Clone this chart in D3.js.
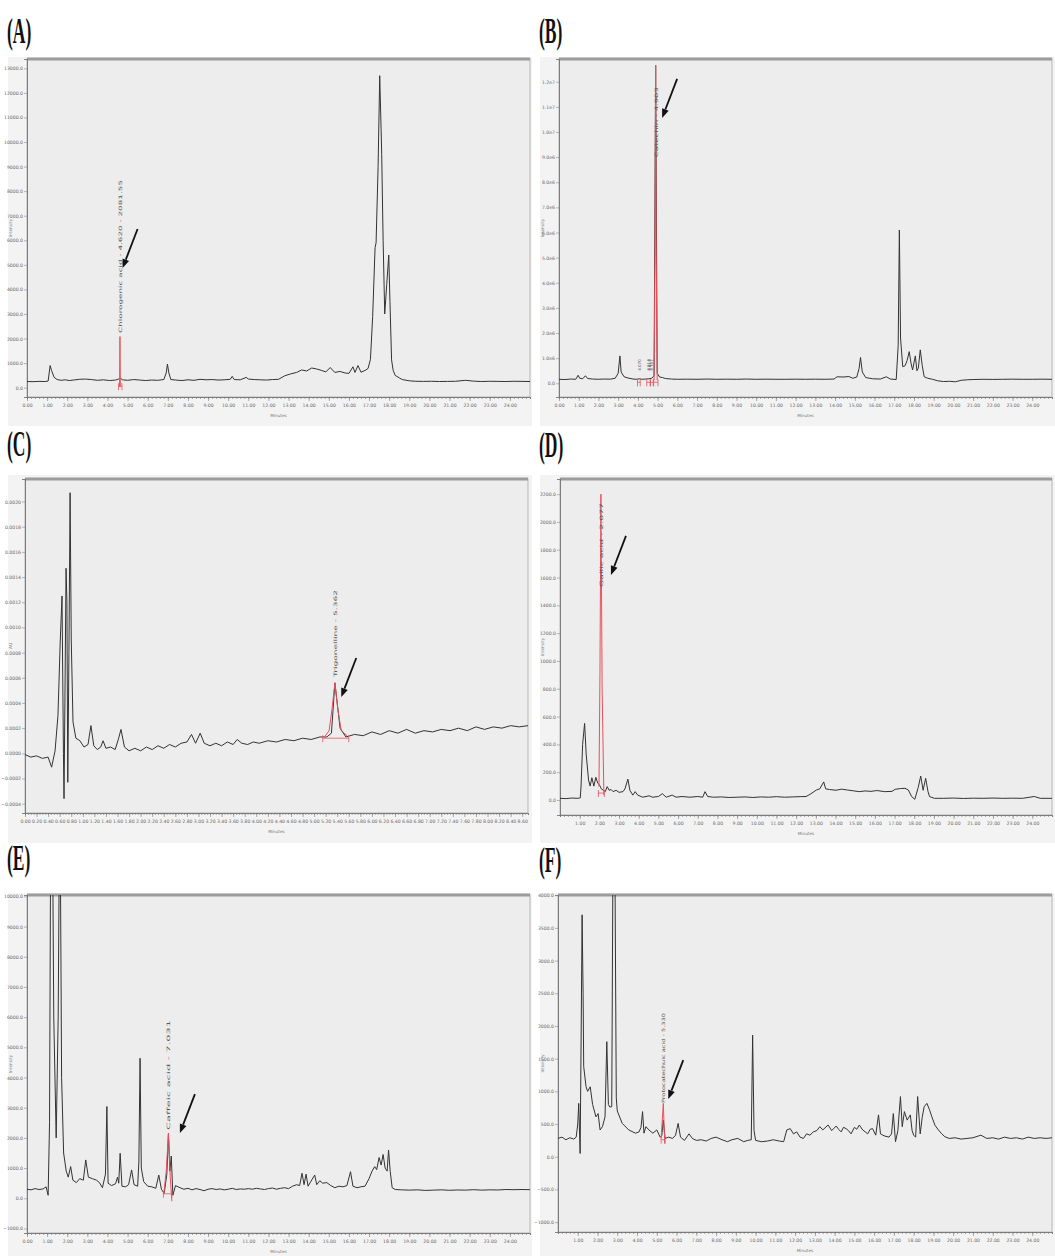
<!DOCTYPE html>
<html>
<head>
<meta charset="utf-8">
<script src="https://cdn.jsdelivr.net/npm/d3@7"></script>
<style>
  body { margin: 0; background: #fff; }
  svg { display: block; }
</style>
</head>
<body>
<div id="wrapper"></div>
<script>
// ---- data: [minutes, response] ----
const traceA = [[0,250],[0.3,245],[0.6,255],[0.9,250],[1.05,270],[1.15,900],[1.22,700],[1.35,420],[1.5,330],[1.7,300],[1.9,320],[2.1,290],[2.3,310],[2.6,340],[2.9,350],[3.2,330],[3.5,300],[3.8,320],[4.1,290],[4.4,310],[4.55,350],[4.65,380],[4.75,320],[5.0,300],[5.3,330],[5.6,310],[5.9,290],[6.2,310],[6.5,300],[6.8,330],[6.92,600],[6.98,960],[7.05,600],[7.15,330],[7.4,310],[7.7,290],[8.0,320],[8.3,300],[8.6,340],[8.9,320],[9.2,330],[9.5,310],[9.8,320],[10.1,340],[10.2,460],[10.3,330],[10.6,320],[10.9,420],[11.0,350],[11.3,330],[11.6,320],[11.9,310],[12.2,330],[12.5,340],[12.8,480],[13.1,560],[13.4,620],[13.65,720],[13.9,680],[14.15,800],[14.4,760],[14.65,700],[14.85,640],[15.07,820],[15.3,620],[15.55,660],[15.8,600],[16.0,580],[16.2,850],[16.3,620],[16.45,900],[16.6,630],[16.8,700],[16.95,780],[17.07,1150],[17.18,2900],[17.3,5700],[17.35,5900],[17.45,9000],[17.53,12700],[17.6,10500],[17.63,9500],[17.7,6000],[17.78,3000],[17.88,4200],[17.98,5400],[18.04,3500],[18.12,1130],[18.2,700],[18.3,500],[18.5,400],[18.65,330],[19.0,280],[19.3,260],[19.7,255],[20.1,260],[20.5,250],[20.9,255],[21.3,260],[21.8,300],[22.2,265],[22.6,250],[23.0,260],[23.4,255],[23.8,250],[24.2,260],[24.6,255],[25,250]]
const peakA = [[4.6,40],[4.62,2080],[4.64,40]]

const traceB = [[0,160000],[0.3,150000],[0.6,170000],[0.85,160000],[0.97,320000],[1.05,200000],[1.2,180000],[1.34,300000],[1.45,190000],[1.7,170000],[2.0,160000],[2.3,170000],[2.6,165000],[2.85,200000],[3.0,400000],[3.09,1090000],[3.15,450000],[3.3,260000],[3.5,210000],[3.75,170000],[3.95,160000],[4.07,180000],[4.2,160000],[4.4,170000],[4.55,180000],[4.7,200000],[4.82,300000],[4.9,12660000],[4.98,400000],[5.1,250000],[5.24,230000],[5.4,190000],[5.7,170000],[6.0,160000],[6.5,165000],[7.0,160000],[7.5,170000],[8.0,160000],[8.5,165000],[9.0,160000],[9.5,170000],[10.0,160000],[10.5,165000],[11.0,160000],[11.5,160000],[12.0,165000],[12.5,160000],[13.0,165000],[13.5,160000],[13.95,170000],[14.1,260000],[14.4,250000],[14.7,270000],[14.9,200000],[15.1,250000],[15.22,600000],[15.29,1030000],[15.38,450000],[15.55,230000],[15.9,180000],[16.3,170000],[16.6,260000],[16.8,170000],[17.1,150000],[17.2,1500000],[17.26,6100000],[17.32,1800000],[17.43,660000],[17.55,700000],[17.65,900000],[17.76,1260000],[17.85,800000],[17.93,530000],[18.07,1090000],[18.15,500000],[18.22,600000],[18.32,1330000],[18.42,700000],[18.52,260000],[18.7,200000],[18.94,160000],[19.2,100000],[19.5,70000],[19.8,80000],[20.1,60000],[20.4,120000],[20.7,140000],[21.0,150000],[21.5,160000],[22.0,155000],[22.5,160000],[23.0,165000],[23.5,160000],[24.0,160000],[24.5,165000],[25,160000]]
const peakB = [[4.82,120000],[4.87,5000000],[4.9,12660000],[4.93,5000000],[4.98,120000]]

const traceC = [[0,-0.00001],[0.1,-0.00003],[0.2,-0.00002],[0.3,-0.00004],[0.4,-0.00003],[0.46,-0.00011],[0.52,0.00002],[0.57,0.0003],[0.61,0.0009],[0.64,0.00125],[0.665,0.0],[0.675,-0.00036],[0.69,0.0004],[0.71,0.00147],[0.725,0.0012],[0.74,-0.00023],[0.76,0.0008],[0.78,0.00207],[0.8,0.0009],[0.83,0.00025],[0.88,0.00012],[0.95,0.0001],[1.02,0.00005],[1.09,0.00007],[1.14,0.00022],[1.19,0.00006],[1.25,0.00003],[1.31,0.00005],[1.35,0.0001],[1.4,0.00004],[1.48,0.00005],[1.56,0.00003],[1.62,0.00012],[1.66,0.00019],[1.72,0.00005],[1.8,0.00002],[1.9,0.00004],[2.0,0.00002],[2.1,0.00005],[2.2,0.00003],[2.3,0.00006],[2.4,0.00004],[2.5,0.00007],[2.6,0.00005],[2.7,0.00008],[2.8,0.00009],[2.88,0.00015],[2.95,0.00008],[3.03,0.00016],[3.1,0.00008],[3.2,0.00006],[3.3,0.00008],[3.4,0.00006],[3.5,0.00009],[3.6,0.00007],[3.67,0.00011],[3.75,0.00008],[3.85,0.00007],[3.95,0.00009],[4.05,0.00008],[4.2,0.0001],[4.35,0.00009],[4.5,0.00011],[4.65,0.0001],[4.8,0.00012],[4.95,0.00011],[5.1,0.00013],[5.22,0.00013],[5.3,0.00016],[5.36,0.00056],[5.45,0.0002],[5.55,0.00013],[5.7,0.00015],[5.85,0.00014],[6.0,0.00017],[6.15,0.00015],[6.3,0.00018],[6.45,0.00016],[6.6,0.00019],[6.75,0.00016],[6.9,0.00018],[7.05,0.00017],[7.2,0.00019],[7.35,0.00018],[7.5,0.0002],[7.65,0.00018],[7.8,0.00021],[7.95,0.00019],[8.1,0.00021],[8.25,0.0002],[8.4,0.00022],[8.55,0.00021],[8.7,0.00022]]
const peakC = [[5.18,0.00013],[5.26,0.00018],[5.31,0.00035],[5.36,0.00056],[5.41,0.00035],[5.47,0.00018],[5.57,0.00014]]

const traceD = [[0,12],[0.3,10],[0.6,14],[0.9,12],[1.03,15],[1.07,100],[1.15,400],[1.25,551],[1.33,330],[1.45,144],[1.53,100],[1.62,160],[1.72,100],[1.82,163],[1.92,120],[2.0,110],[2.1,80],[2.2,70],[2.3,60],[2.4,96],[2.5,70],[2.6,75],[2.7,60],[2.85,70],[3.0,55],[3.2,60],[3.3,80],[3.45,150],[3.55,70],[3.7,35],[3.82,60],[3.95,35],[4.2,20],[4.53,30],[4.7,20],[5.0,25],[5.2,45],[5.4,20],[5.7,35],[5.9,20],[6.2,25],[6.6,20],[7.0,25],[7.25,20],[7.37,60],[7.5,25],[7.8,20],[8.2,22],[8.6,18],[9.0,20],[9.4,22],[9.8,18],[10.2,22],[10.6,20],[11.0,24],[11.4,20],[11.8,22],[12.2,24],[12.5,25],[12.7,40],[13.03,72],[13.2,80],[13.4,130],[13.5,80],[13.7,75],[14.03,70],[14.3,78],[14.6,72],[14.9,66],[15.2,60],[15.5,65],[15.8,62],[16.1,68],[16.5,60],[16.87,62],[17.03,77],[17.3,82],[17.53,84],[17.7,72],[17.87,24],[18.03,5],[18.2,90],[18.33,172],[18.45,70],[18.58,156],[18.7,60],[18.78,24],[19.03,12],[19.5,12],[20.0,14],[20.5,11],[21.0,13],[21.5,12],[22.0,14],[22.5,12],[23.0,13],[23.5,12],[24.1,25],[24.4,12],[25,12]]
const peakD = [[1.98,96],[2.03,900],[2.08,2200],[2.14,800],[2.23,36]]

const traceE = [[0,300],[0.2,280],[0.4,320],[0.6,290],[0.8,310],[0.95,380],[1.05,100],[1.12,2500],[1.17,11000],[1.28,11000],[1.33,6000],[1.45,2000],[1.55,6000],[1.6,11000],[1.66,11000],[1.72,4000],[1.82,1500],[1.95,900],[2.05,700],[2.17,1050],[2.28,600],[2.45,520],[2.62,650],[2.8,600],[2.92,1270],[3.05,700],[3.25,650],[3.45,600],[3.6,520],[3.75,350],[3.9,800],[3.97,3040],[4.03,500],[4.2,420],[4.4,480],[4.5,700],[4.56,500],[4.63,1490],[4.72,400],[4.9,380],[5.05,450],[5.2,940],[5.32,450],[5.5,400],[5.56,1200],[5.62,4640],[5.68,1000],[5.8,550],[6.0,400],[6.2,380],[6.4,330],[6.55,770],[6.68,300],[6.82,165],[6.95,800],[7.03,2150],[7.1,900],[7.17,1400],[7.25,100],[7.38,420],[7.6,350],[7.8,300],[8.0,330],[8.2,280],[8.4,320],[8.6,290],[8.8,250],[9.0,300],[9.2,320],[9.4,290],[9.6,310],[9.8,280],[10.0,300],[10.2,330],[10.4,290],[10.6,310],[10.8,300],[11.0,320],[11.2,300],[11.4,330],[11.6,310],[11.8,290],[12.0,320],[12.2,340],[12.4,300],[12.6,330],[12.8,350],[13.0,320],[13.2,400],[13.4,450],[13.55,420],[13.67,830],[13.77,450],[13.87,800],[13.97,400],[14.1,550],[14.3,770],[14.4,450],[14.55,580],[14.7,500],[14.9,520],[15.1,420],[15.3,350],[15.5,400],[15.7,380],[15.9,420],[16.08,880],[16.2,400],[16.4,350],[16.6,380],[16.8,400],[17.0,650],[17.15,900],[17.28,1050],[17.38,950],[17.5,1350],[17.6,1100],[17.7,1450],[17.8,1000],[17.9,900],[17.97,1600],[18.05,900],[18.15,350],[18.3,290],[18.6,280],[19.0,270],[19.4,280],[19.8,260],[20.2,270],[20.6,280],[21.0,265],[21.4,275],[21.8,270],[22.2,285],[22.6,270],[23.0,280],[23.4,275],[23.8,290],[24.2,285],[24.6,290],[25,285]]
const peakE = [[6.8,150],[6.92,900],[7.03,2150],[7.12,700],[7.2,-100]]

const traceF = [[0,280],[0.2,300],[0.4,260],[0.6,290],[0.8,270],[0.92,300],[1.0,500],[1.05,816],[1.12,50],[1.17,1800],[1.22,3700],[1.27,2500],[1.3,1380],[1.42,1070],[1.5,1000],[1.63,1070],[1.75,800],[1.92,610],[2.03,660],[2.13,410],[2.25,460],[2.38,610],[2.47,1760],[2.55,800],[2.62,760],[2.72,765],[2.78,4500],[2.88,4500],[2.95,900],[3.0,700],[3.25,510],[3.58,410],[3.92,360],[4.1,380],[4.2,450],[4.28,690],[4.35,360],[4.45,460],[4.6,410],[4.8,360],[5.0,410],[5.17,300],[5.25,320],[5.33,560],[5.42,280],[5.6,300],[5.8,280],[5.95,330],[6.08,510],[6.2,300],[6.4,250],[6.63,350],[6.8,280],[7.0,250],[7.25,260],[7.5,240],[7.75,280],[8.0,300],[8.3,260],[8.58,230],[8.8,260],[9.1,280],[9.4,230],[9.6,250],[9.78,260],[9.85,1860],[9.92,400],[10.0,250],[10.3,230],[10.6,240],[10.9,260],[11.2,240],[11.42,230],[11.58,410],[11.75,430],[11.92,350],[12.08,380],[12.25,300],[12.42,280],[12.58,350],[12.75,330],[12.92,380],[13.1,400],[13.25,460],[13.4,410],[13.67,485],[13.85,400],[14.08,470],[14.2,420],[14.33,380],[14.45,450],[14.58,430],[14.7,400],[14.83,350],[15.0,450],[15.12,420],[15.25,485],[15.42,410],[15.55,380],[15.67,350],[15.8,420],[15.92,430],[16.08,330],[16.22,640],[16.32,350],[16.5,320],[16.75,300],[16.88,350],[16.97,660],[17.08,230],[17.2,400],[17.33,920],[17.42,460],[17.53,690],[17.67,560],[17.83,640],[17.92,400],[18.0,330],[18.1,300],[18.2,920],[18.33,350],[18.43,600],[18.53,765],[18.67,816],[18.8,720],[18.92,610],[19.08,480],[19.25,410],[19.42,350],[19.58,306],[19.8,280],[20.1,290],[20.4,270],[20.7,280],[21.0,290],[21.4,330],[21.7,280],[22.0,290],[22.3,270],[22.6,300],[22.9,280],[23.2,290],[23.5,270],[23.8,300],[24.1,280],[24.4,290],[24.7,280],[25,290]]
const peakF = [[5.22,280],[5.33,816],[5.4,200]]

// red integration baselines: [start, end, level]
const integA = [[4.55,4.72,60]]
const integB = [[3.98,4.12,40000],[4.45,4.62,40000],[4.64,4.78,40000],[4.8,5.02,40000]]
const integC = [[5.15,5.6,0.00012]]
const integD = [[1.95,2.25,50]]
const integE = [[6.78,7.2,150]]
const integF = [[5.22,5.42,260]]

// peak names written up the peak, and small labels in (B)
const peakNames = {
  A: "Chlorogenic acid - 4.620 - 2081.55",
  B: "Catechin - 4.903",
  C: "Trigonelline - 5.362",
  D: "Gallic acid - 2.077",
  E: "Caffeic acid - 7.031",
  F: "Protocatechuic acid - 5.330"
}
const minorPeakNamesB = [[4.07,"4.070"],[4.52,"4.514"],[4.6,"4.613"],[4.68,"4.701"]]

// tick values
const yTicksA = d3.range(0, 13001, 1000)
const yTicksB = d3.range(0, 12000001, 1000000)
const yTickLabelsB = ["0.0","1.0e6","2.0e6","3.0e6","4.0e6","5.0e6","6.0e6","7.0e6","8.0e6","9.0e6","1.0e7","1.1e7","1.2e7"]
const yTicksC = [-0.0004,-0.0002,0,0.0002,0.0004,0.0006,0.0008,0.001,0.0012,0.0014,0.0016,0.0018,0.002]
const yTicksD = d3.range(0, 2201, 200)
const yTicksE = d3.range(-1000, 10001, 1000)
const yTicksF = d3.range(-1000, 4001, 500)
const xTicksFull = d3.range(0, 25, 1)
const xTicksFromOne = d3.range(1, 25, 1)
const xTicksC = d3.range(0, 44).map(i => +(i * 0.2).toFixed(1))

// ---- layout ----
const width = 1055
const height = 1256

const panels = [
  { id: "A", trace: traceA, peak: peakA, integ: integA, yTicks: yTicksA, yFmt: d3.format(".1f"), xTicks: xTicksFull, xFmt: d3.format(".2f"),
    xDomain: [0, 25], yDomain: [-380, 13380], minorStep: 0.2, yTitle: "Intensity",
    outer: [8, 57, 532, 426], plot: [27, 59, 530, 397], labelY: 43,
    nameAt: [4.6, 2226], nameLen: 153, arrowTip: [4.75, 4870] },
  { id: "B", trace: traceB, peak: peakB, integ: integB, yTicks: yTicksB, yLabels: yTickLabelsB, xTicks: xTicksFull, xFmt: d3.format(".2f"),
    xDomain: [0, 25], yDomain: [-545000, 12905000], minorStep: 0.2, yTitle: "Intensity",
    outer: [540, 57, 1055, 426], plot: [559, 59, 1052, 397], labelY: 43,
    nameAt: [4.9, 9000000], nameLen: 70, arrowTip: [5.23, 10560000] },
  { id: "C", trace: traceC, peak: peakC, integ: integC, yTicks: yTicksC, yFmt: d3.format(".4f"), xTicks: xTicksC, xFmt: d3.format(".2f"),
    xDomain: [0, 8.7], yDomain: [-0.000474, 0.002179], minorStep: 0.05, yTitle: "AU",
    outer: [8, 475, 532, 843], plot: [25, 479, 528, 813], labelY: 456,
    nameAt: [5.36, 0.000606], nameLen: 87, arrowTip: [5.47, 0.000447] },
  { id: "D", trace: traceD, peak: peakD, integ: integD, yTicks: yTicksD, yFmt: d3.format(".1f"), xTicks: xTicksFromOne, xFmt: d3.format(".2f"),
    xDomain: [0, 25], yDomain: [-108, 2309], minorStep: 0.2, yTitle: "Intensity",
    outer: [540, 475, 1055, 843], plot: [560, 479, 1052, 815], labelY: 457,
    nameAt: [2.08, 1532], nameLen: 84, arrowTip: [2.59, 1619] },
  { id: "E", trace: traceE, peak: peakE, integ: integE, yTicks: yTicksE, yFmt: d3.format(".1f"), xTicks: xTicksFull, xFmt: d3.format(".2f"),
    xDomain: [0, 25], yDomain: [-1150, 10046], minorStep: 0.2, yTitle: "Intensity",
    outer: [8, 893, 532, 1256], plot: [27, 895, 530, 1233], labelY: 870,
    nameAt: [7.03, 2262], nameLen: 110, arrowTip: [7.6, 2160] },
  { id: "F", trace: traceF, peak: peakF, integ: integF, yTicks: yTicksF, yFmt: d3.format(".1f"), xTicks: xTicksFromOne, xFmt: d3.format(".2f"),
    xDomain: [0, 25], yDomain: [-1151, 4003], minorStep: 0.2, yTitle: "Intensity",
    outer: [540, 893, 1055, 1256], plot: [558, 895, 1052, 1232], labelY: 872,
    nameAt: [5.33, 821], nameLen: 90, arrowTip: [5.58, 882] },
]

const svg = d3.select("#wrapper")
  .append("svg")
    .attr("width", width)
    .attr("height", height)

svg.append("rect").attr("width", width).attr("height", height).attr("fill", "#fff")

const defs = svg.append("defs")

panels.forEach(drawPanel)

function drawPanel(p) {
  const [ox0, oy0, ox1, oy1] = p.outer
  const [left, top, right, bottom] = p.plot

  const xScale = d3.scaleLinear().domain(p.xDomain).range([left, right])
  const yScale = d3.scaleLinear().domain(p.yDomain).range([bottom, top])

  const g = svg.append("g").attr("class", "panel-" + p.id)

  // panel letter
  g.append("text")
      .attr("transform", `translate(${ox0 - 1}, ${p.labelY}) scale(0.5, 1)`)
      .attr("font-family", "Liberation Serif")
      .attr("font-weight", "bold")
      .attr("font-size", 35)
      .attr("fill", "#111")
      .text(`(${p.id})`)

  // window background and plot area
  g.append("rect")
      .attr("x", ox0).attr("y", oy0)
      .attr("width", ox1 - ox0).attr("height", oy1 - oy0)
      .attr("fill", "#f3f3f3")
  g.append("rect")
      .attr("x", left).attr("y", top)
      .attr("width", right - left).attr("height", bottom - top)
      .attr("fill", "#ededed")
      .attr("stroke", "#a9a9a9")
      .attr("stroke-width", 0.8)
  g.append("line")
      .attr("x1", left).attr("x2", right)
      .attr("y1", top).attr("y2", top)
      .attr("stroke", "#9c9c9c")
      .attr("stroke-width", 3)

  // y axis
  const yAxis = d3.axisLeft(yScale)
    .tickValues(p.yTicks)
    .tickSize(3)
    .tickPadding(1)
    .tickFormat((d, i) => p.yLabels ? p.yLabels[i] : p.yFmt(d))
  const yAxisG = g.append("g")
      .attr("transform", `translate(${left}, 0)`)
    .call(yAxis)
  yAxisG.select(".domain").attr("stroke", "#666").attr("stroke-width", 0.8)
  yAxisG.selectAll(".tick line").attr("stroke", "#888").attr("stroke-width", 0.6)
  yAxisG.selectAll(".tick text")
      .attr("font-family", "DejaVu Sans")
      .attr("font-size", 4.6)
      .attr("fill", "#6a6a6a")

  g.append("text")
      .attr("transform", `translate(${ox0 + 4}, ${(top + bottom) / 2}) rotate(-90)`)
      .attr("text-anchor", "middle")
      .attr("font-family", "DejaVu Sans")
      .attr("font-size", 4.2)
      .attr("fill", "#777")
      .text(p.yTitle)

  // x axis: minor ticks then labelled major ticks
  const minorTicks = d3.range(p.xDomain[0], p.xDomain[1] + 1e-9, p.minorStep)
  const xMinor = d3.axisBottom(xScale).tickValues(minorTicks).tickSize(2).tickFormat("")
  const xMinorG = g.append("g")
      .attr("transform", `translate(0, ${bottom})`)
    .call(xMinor)
  xMinorG.select(".domain").attr("stroke", "#666").attr("stroke-width", 0.8)
  xMinorG.selectAll(".tick line").attr("stroke", "#777").attr("stroke-width", 0.6)

  const xAxis = d3.axisBottom(xScale)
    .tickValues(p.xTicks)
    .tickSize(4)
    .tickPadding(3)
    .tickFormat(p.xFmt)
  const xAxisG = g.append("g")
      .attr("transform", `translate(0, ${bottom})`)
    .call(xAxis)
  xAxisG.select(".domain").remove()
  xAxisG.selectAll(".tick line").attr("stroke", "#777").attr("stroke-width", 0.6)
  xAxisG.selectAll(".tick text")
      .attr("font-family", "DejaVu Sans")
      .attr("font-size", 4.6)
      .attr("fill", "#6a6a6a")

  g.append("text")
      .attr("x", (left + right) / 2)
      .attr("y", bottom + 20)
      .attr("text-anchor", "middle")
      .attr("font-family", "DejaVu Sans")
      .attr("font-size", 4.2)
      .attr("fill", "#777")
      .text("Minutes")

  // clip traces to the plot area
  defs.append("clipPath")
      .attr("id", "clip-" + p.id)
    .append("rect")
      .attr("x", left).attr("y", top)
      .attr("width", right - left).attr("height", bottom - top)

  const plot = g.append("g").attr("clip-path", `url(#clip-${p.id})`)

  const lineGenerator = d3.line()
    .x(d => xScale(d[0]))
    .y(d => yScale(d[1]))

  plot.append("path")
      .attr("d", lineGenerator(p.trace))
      .attr("fill", "none")
      .attr("stroke", "#333")
      .attr("stroke-width", 1)
      .attr("stroke-linejoin", "round")

  // integration marks
  p.integ.forEach(([t0, t1, v]) => {
    plot.append("line")
        .attr("x1", xScale(t0)).attr("x2", xScale(t1))
        .attr("y1", yScale(v)).attr("y2", yScale(v))
        .attr("stroke", "#e8505a").attr("stroke-width", 0.8)
    ;[t0, t1].forEach(t => {
      plot.append("line")
          .attr("x1", xScale(t)).attr("x2", xScale(t))
          .attr("y1", yScale(v) - 3).attr("y2", yScale(v) + 4)
          .attr("stroke", "#e8505a").attr("stroke-width", 0.8)
    })
  })

  // identified peak in red
  plot.append("path")
      .attr("d", lineGenerator(p.peak))
      .attr("fill", "none")
      .attr("stroke", "#e8505a")
      .attr("stroke-width", 1)

  // vertical peak name
  const nx = xScale(p.nameAt[0])
  const ny = yScale(p.nameAt[1])
  g.append("text")
      .attr("transform", `translate(${nx + 2}, ${ny}) rotate(-90)`)
      .attr("font-family", "DejaVu Sans")
      .attr("font-size", 4.6)
      .attr("fill", "#555")
      .attr("textLength", p.nameLen)
      .attr("lengthAdjust", "spacingAndGlyphs")
      .text(peakNames[p.id])

  if (p.id === "B") {
    minorPeakNamesB.forEach(([t, name]) => {
      g.append("text")
          .attr("transform", `translate(${xScale(t) + 1.5}, ${yScale(500000)}) rotate(-90)`)
          .attr("font-family", "DejaVu Sans")
          .attr("font-size", 4)
          .attr("fill", "#555")
          .text(name)
    })
  }

  // arrow pointing at the peak
  const tipX = xScale(p.arrowTip[0])
  const tipY = yScale(p.arrowTip[1])
  const dx = 15, dy = -39
  const len = Math.hypot(dx, dy)
  const ux = dx / len, uy = dy / len
  const baseX = tipX + ux * 9, baseY = tipY + uy * 9
  g.append("line")
      .attr("x1", tipX + dx).attr("y1", tipY + dy)
      .attr("x2", baseX).attr("y2", baseY)
      .attr("stroke", "#111")
      .attr("stroke-width", 1.8)
  g.append("path")
      .attr("d", `M${tipX},${tipY} L${baseX - uy * 3.5},${baseY + ux * 3.5} L${baseX + uy * 3.5},${baseY - ux * 3.5} Z`)
      .attr("fill", "#111")
}
</script>
</body>
</html>
